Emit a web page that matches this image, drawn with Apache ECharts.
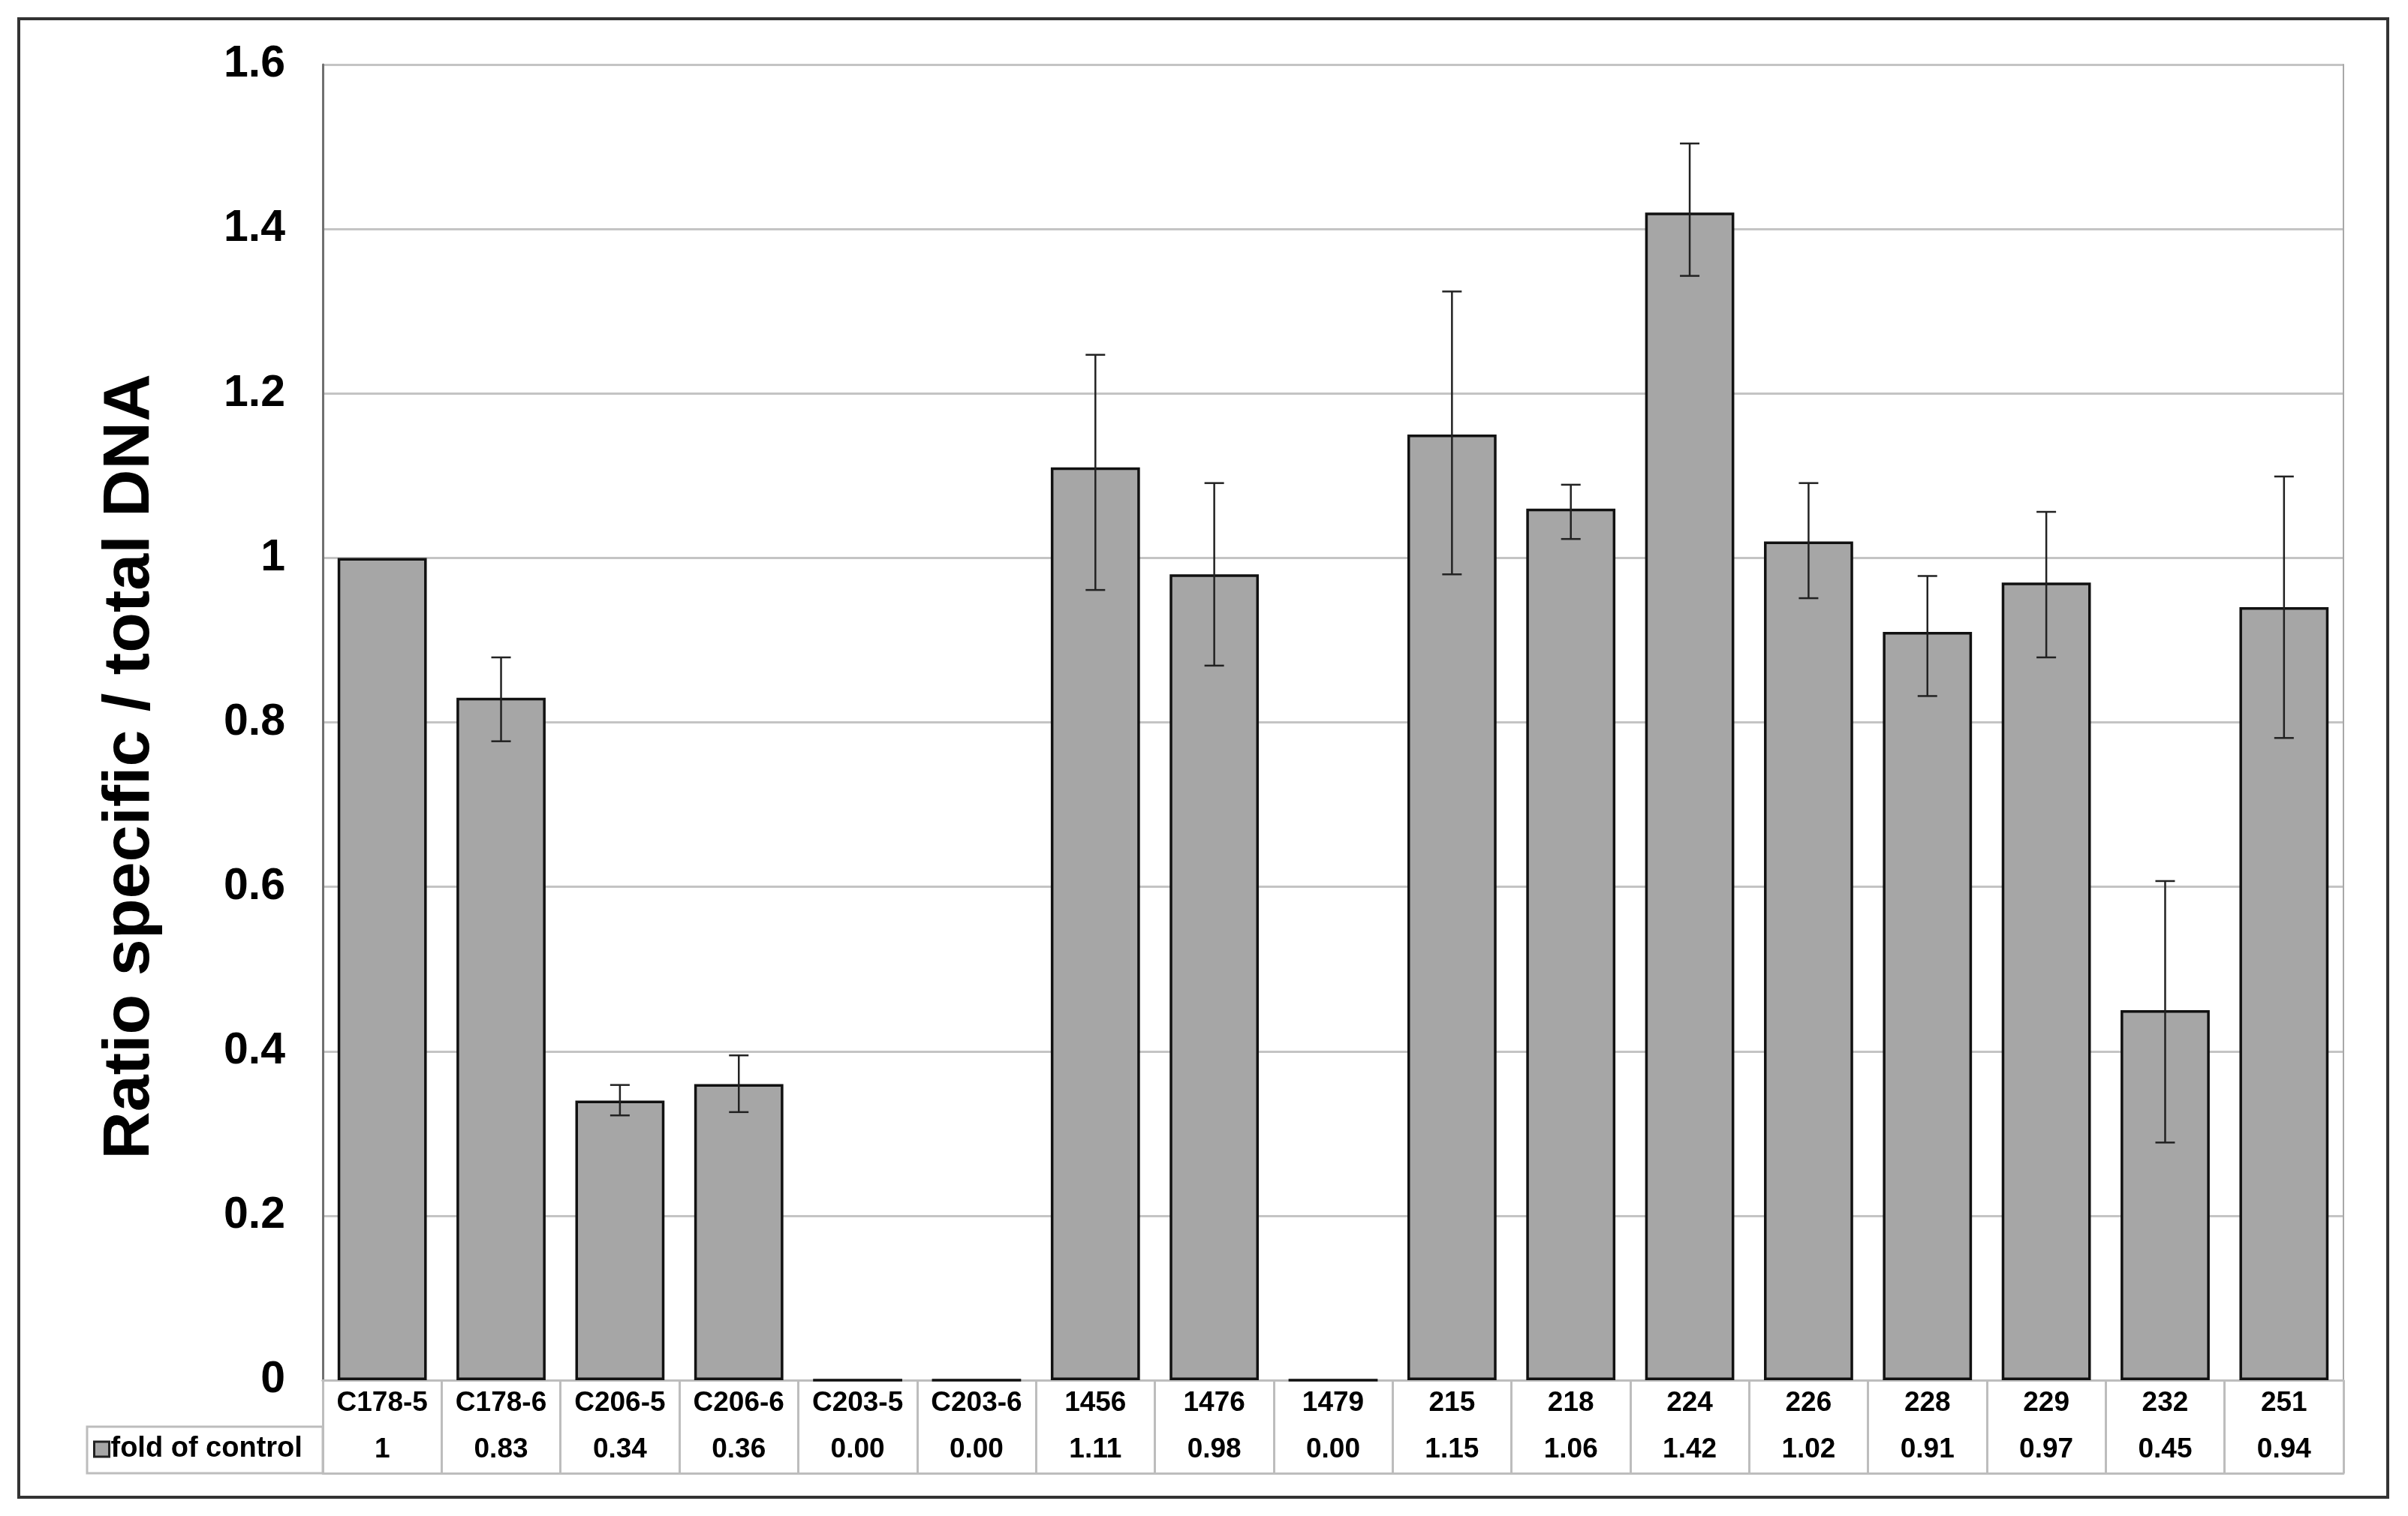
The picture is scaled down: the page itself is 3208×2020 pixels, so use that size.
<!DOCTYPE html>
<html>
<head>
<meta charset="utf-8">
<script src="https://cdn.jsdelivr.net/npm/echarts@6/dist/echarts.min.js"></script>
<style>
  html, body { margin: 0; padding: 0; background: #ffffff; }
  #chart { width: 3208px; height: 2020px; }
</style>
</head>
<body>
<div id="chart"></div>
<script>
// ---- data ----
const categories = ['C178-5', 'C178-6', 'C206-5', 'C206-6', 'C203-5', 'C203-6', '1456', '1476', '1479', '215', '218', '224', '226', '228', '229', '232', '251'];
const foldValues = [1, 0.83, 0.34, 0.36, 0, 0, 1.11, 0.98, 0, 1.15, 1.06, 1.42, 1.02, 0.91, 0.97, 0.45, 0.94];
const foldLabels = ['1', '0.83', '0.34', '0.36', '0.00', '0.00', '1.11', '0.98', '0.00', '1.15', '1.06', '1.42', '1.02', '0.91', '0.97', '0.45', '0.94'];
const errHigh = [null, 0.879, 0.359, 0.395, null, null, 1.247, 1.091, null, 1.324, 1.089, 1.504, 1.091, 0.978, 1.056, 0.607, 1.099];
const errLow  = [null, 0.777, 0.322, 0.326, null, null, 0.961, 0.869, null, 0.980, 1.023, 1.343, 0.951, 0.832, 0.879, 0.289, 0.781];
const yTicks = { min: 0, max: 1.6, interval: 0.2 };
const seriesName = 'fold of control';
const yTitle = 'Ratio specific / total DNA';

// ---- layout ----
const W = 3208, H = 2020;
const G = { left: 430, right: 86, top: 86, bottom: 181 };
const rowH = 62;
const tableLeft = 116;
const FONT = "'Liberation Sans', Arial, sans-serif";
const gridColor = '#c4c4c4';
const tableColor = '#bdbdbd';

const errData = categories.map((c, i) => [i, errLow[i], errHigh[i]]).filter(d => d[1] != null);

const chart = echarts.init(document.getElementById('chart'), null, { renderer: 'canvas' });

const option = {
  backgroundColor: '#ffffff',
  animation: false,
  grid: { left: G.left, right: G.right, top: G.top, bottom: G.bottom, containLabel: false },
  legend: {
    data: [seriesName],
    left: tableLeft + 8,
    top: H - G.bottom + rowH + rowH / 2 - 20,
    padding: 0,
    icon: 'rect',
    itemWidth: 20,
    itemHeight: 20,
    itemStyle: { color: '#a6a6a6', borderColor: '#222', borderWidth: 3 },
    textStyle: { fontFamily: FONT, fontWeight: 'bold', fontSize: 38, color: '#000', padding: [0, 0, 0, -3] }
  },
  xAxis: [
    {
      type: 'category',
      data: categories,
      position: 'bottom',
      axisLine: { show: true, lineStyle: { color: '#9a9a9a', width: 3 } },
      axisTick: { show: true, interval: 0, length: rowH * 2, lineStyle: { color: tableColor, width: 3 } },
      axisLabel: { interval: 0, margin: 12, fontFamily: FONT, fontWeight: 'bold', fontSize: 37, color: '#000' },
      splitLine: { show: false }
    },
    {
      type: 'category',
      data: categories,
      position: 'bottom',
      offset: rowH,
      axisLine: { show: true, lineStyle: { color: tableColor, width: 3 } },
      axisTick: { show: false },
      axisLabel: {
        interval: 0, margin: 12, fontFamily: FONT, fontWeight: 'bold', fontSize: 37, color: '#000',
        formatter: (v, i) => foldLabels[i]
      },
      splitLine: { show: false }
    },
    {
      type: 'category',
      data: categories,
      position: 'bottom',
      offset: rowH * 2,
      axisLine: { show: true, lineStyle: { color: tableColor, width: 3 } },
      axisTick: { show: false },
      axisLabel: { show: false },
      splitLine: { show: false }
    }
  ],
  yAxis: [
    {
      type: 'value',
      min: yTicks.min,
      max: yTicks.max,
      interval: yTicks.interval,
      position: 'left',
      name: yTitle,
      nameLocation: 'middle',
      nameRotate: 90,
      nameGap: 212,
      nameTextStyle: { fontFamily: FONT, fontWeight: 'bold', fontSize: 88, color: '#000', padding: [0, 118, 0, 0] },
      axisLine: { show: true, lineStyle: { color: '#707070', width: 3 } },
      axisTick: { show: false },
      axisLabel: { margin: 50, fontFamily: FONT, fontWeight: 'bold', fontSize: 59, color: '#000' },
      splitLine: { show: true, lineStyle: { color: gridColor, width: 3 } }
    },
    {
      type: 'value',
      min: yTicks.min,
      max: yTicks.max,
      interval: yTicks.interval,
      position: 'right',
      axisLine: { show: true, lineStyle: { color: '#a8a8a8', width: 2 } },
      axisTick: { show: false },
      axisLabel: { show: false },
      splitLine: { show: false }
    }
  ],
  graphic: [
    {
      type: 'rect',
      z: 0,
      shape: { x: 25, y: 25, width: 3156, height: 1970 },
      style: { fill: 'none', stroke: '#333', lineWidth: 4 }
    },
    {
      type: 'rect',
      z: 0,
      shape: { x: tableLeft, y: H - G.bottom + rowH, width: G.left - tableLeft, height: rowH },
      style: { fill: 'none', stroke: tableColor, lineWidth: 3 }
    }
  ],
  series: [
    {
      name: seriesName,
      type: 'bar',
      data: foldValues,
      barWidth: '75%',
      itemStyle: { color: '#a6a6a6', borderColor: '#111', borderWidth: 3.5 },
      z: 3
    },
    {
      name: 'error',
      type: 'custom',
      data: errData,
      z: 5,
      renderItem: function (params, api) {
        const x = api.value(0);
        const lo = api.coord([x, api.value(1)]);
        const hi = api.coord([x, api.value(2)]);
        const half = 13;
        const st = { stroke: '#222', lineWidth: 2.5 };
        return {
          type: 'group',
          children: [
            { type: 'line', shape: { x1: hi[0], y1: hi[1], x2: lo[0], y2: lo[1] }, style: st },
            { type: 'line', shape: { x1: hi[0] - half, y1: hi[1], x2: hi[0] + half, y2: hi[1] }, style: st },
            { type: 'line', shape: { x1: lo[0] - half, y1: lo[1], x2: lo[0] + half, y2: lo[1] }, style: st }
          ]
        };
      }
    }
  ]
};

chart.setOption(option);
</script>
</body>
</html>
